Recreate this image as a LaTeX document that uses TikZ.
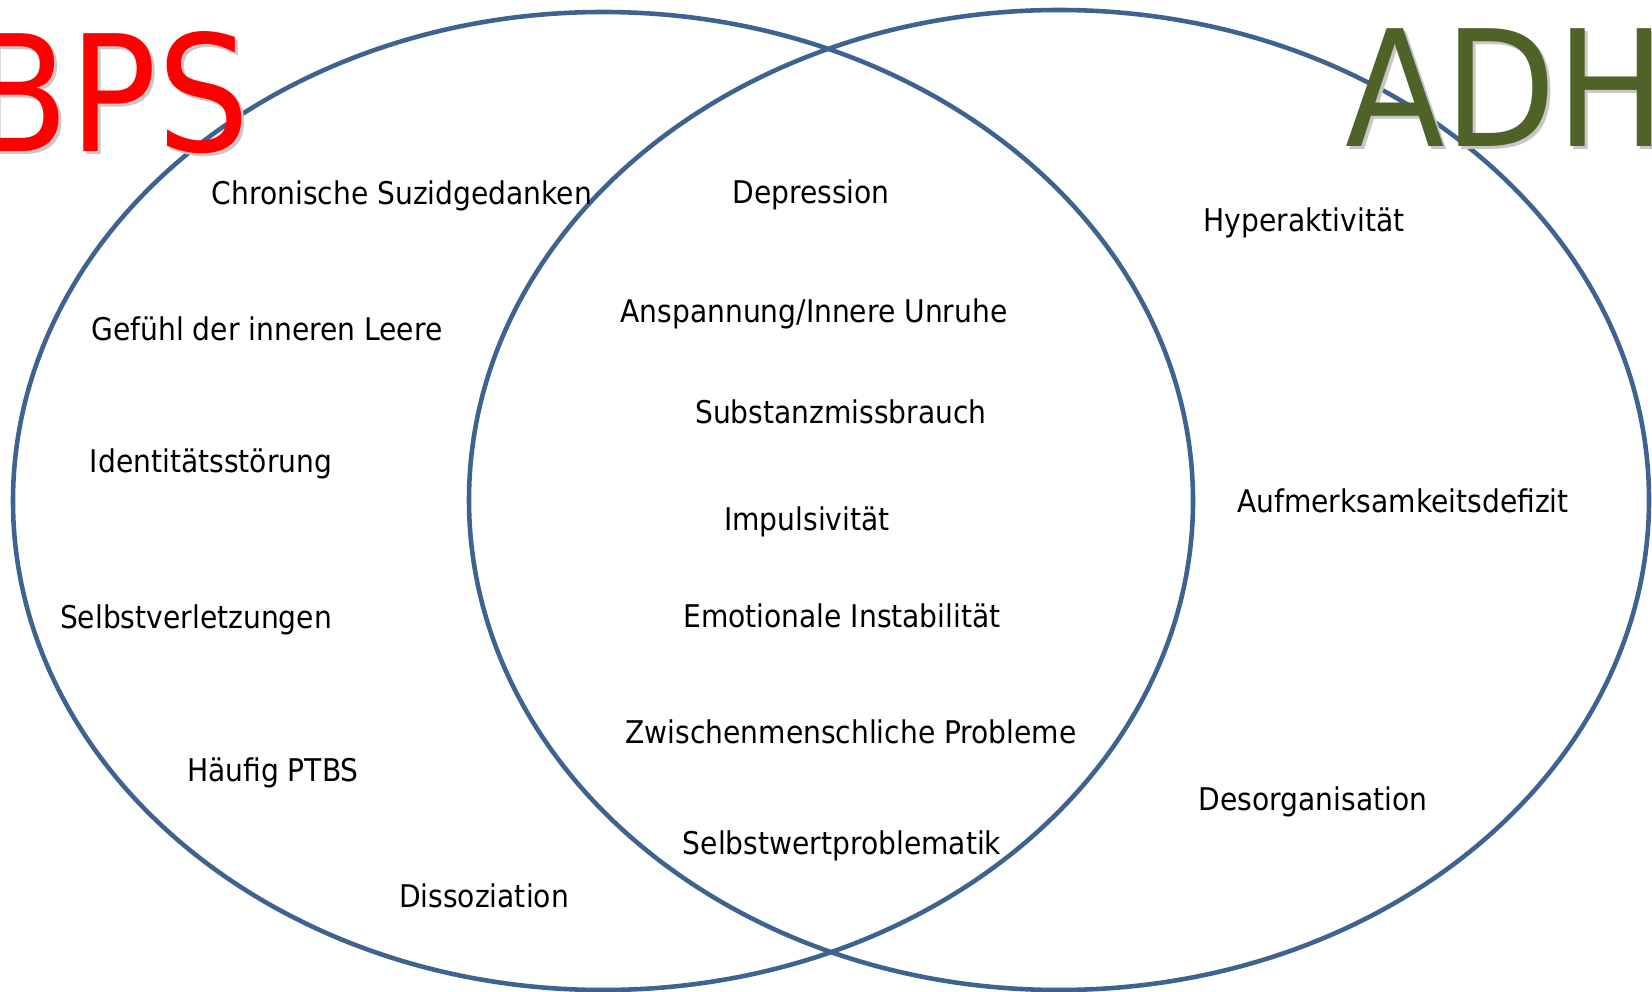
\documentclass[tikz,border=0pt]{standalone}
\usepackage{fontspec}
\setmainfont{DejaVu Sans Condensed}
\definecolor{ringblue}{HTML}{3F6391}
\definecolor{adhgreen}{HTML}{4F6228}
\begin{document}
\begin{tikzpicture}[x=0.2mm,y=-0.2mm,
	item/.style={font=\fontsize{17.8}{20}\selectfont, inner sep=0pt, anchor=center},
	big/.style={font=\fontsize{92}{92}\selectfont, inner sep=0pt},
	shadow/.style={big, text=black!22}]
	\useasboundingbox (0,0) rectangle (1652,992);
	\draw[ringblue, line width=2.6pt] (603,501) ellipse [x radius=590, y radius=489];
	\draw[ringblue, line width=2.6pt] (1059,500) ellipse [x radius=590, y radius=490];
	\node[shadow, anchor=base east] at (253,155) {BPS};
	\node[big, anchor=base east, text=red] (bps) at (250,152) {BPS};
	\node[shadow, anchor=base west] at (1348,150) {ADH};
	\node[big, anchor=base west, text=adhgreen] (adh) at (1345,147) {ADH};
	\node[item] (suizid) at (402,196) {Chronische Suzidgedanken};
	\node[item] (leere) at (267,329) {Gefühl der inneren Leere};
	\node[item] (ident) at (211,464) {Identitätsstörung};
	\node[item] (verletz) at (196,620) {Selbstverletzungen};
	\node[item] (ptbs) at (273,773) {Häufig PTBS};
	\node[item] (dissoz) at (484,896) {Dissoziation};
	\node[item] (depr) at (811,195) {Depression};
	\node[item] (unruhe) at (814,314) {Anspannung/Innere Unruhe};
	\node[item] (subst) at (841,412) {Substanzmissbrauch};
	\node[item] (impuls) at (807,522) {Impulsivität};
	\node[item] (emot) at (842,616) {Emotionale Instabilität};
	\node[item] (zwisch) at (851,732) {Zwischenmenschliche Probleme};
	\node[item] (selbstw) at (842,846) {Selbstwertproblematik};
	\node[item] (hyper) at (1304,223) {Hyperaktivität};
	\node[item] (aufm) at (1403,501) {Aufmerksamkeitsdefizit};
	\node[item] (desorg) at (1313,802) {Desorganisation};
\end{tikzpicture}
\end{document}
